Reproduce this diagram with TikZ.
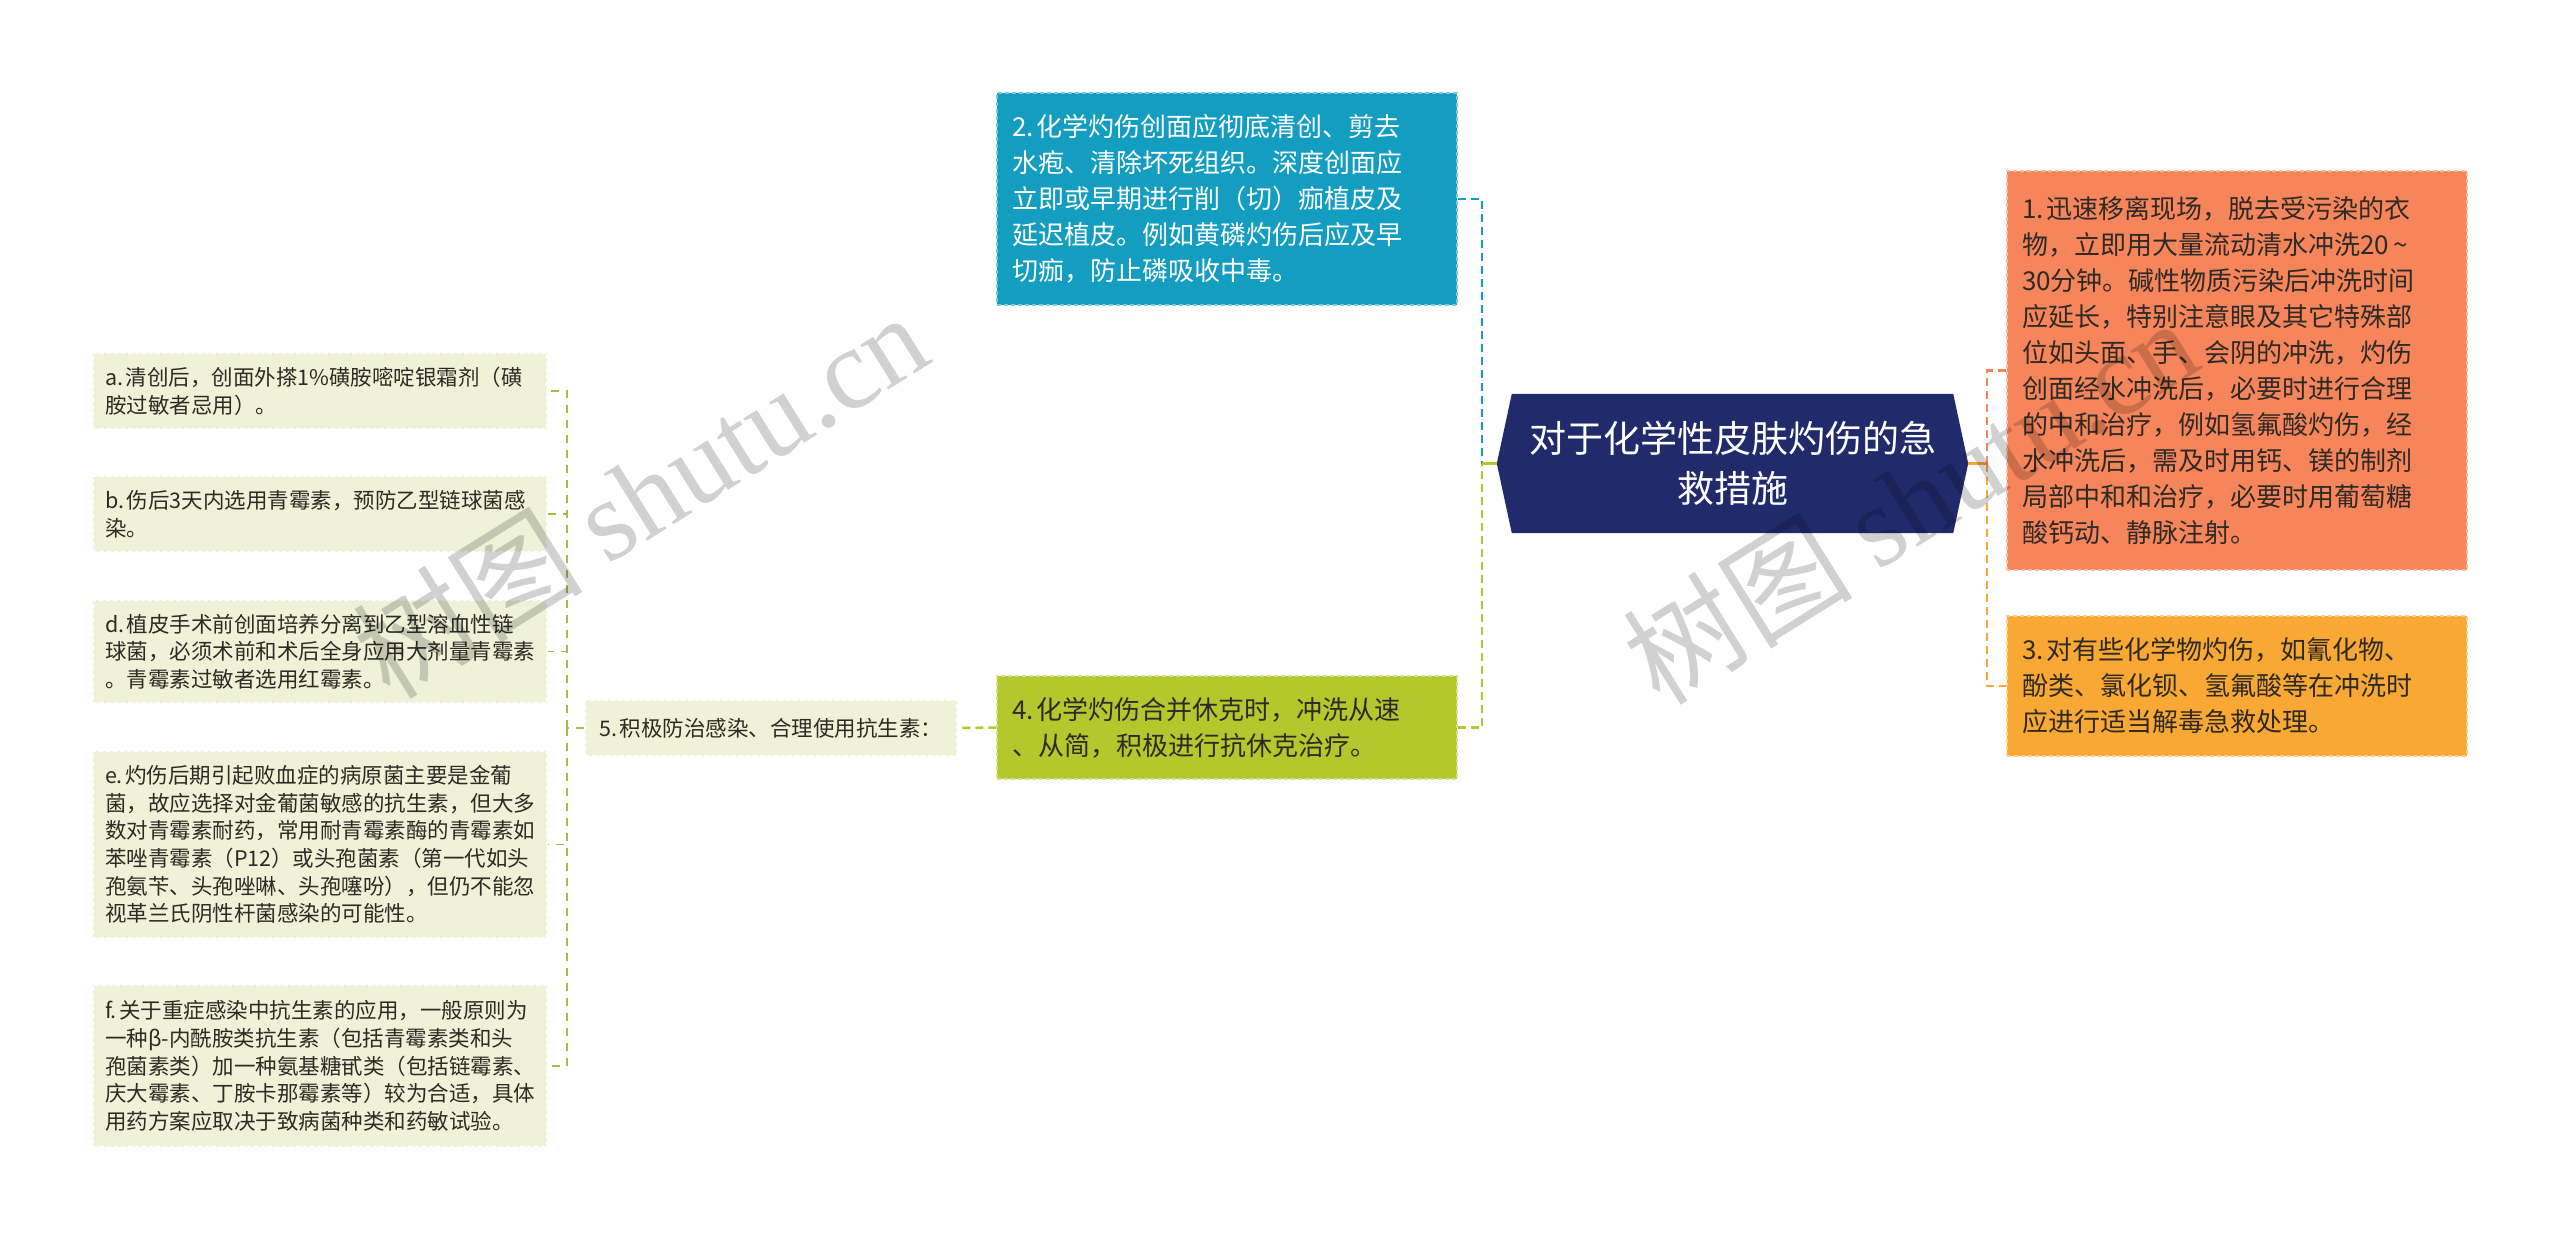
\documentclass[tikz,border=0pt]{standalone}
\usepackage{fontspec}
\setmainfont{Noto Sans CJK SC}
\newfontfamily\wmlatin{Liberation Serif}
\usetikzlibrary{backgrounds}
\definecolor{rootc}{HTML}{212A6B}
\definecolor{tealc}{HTML}{139DC0}
\definecolor{greenc}{HTML}{B4C72C}
\definecolor{coralc}{HTML}{F7855B}
\definecolor{amberc}{HTML}{F9A833}
\definecolor{palec}{HTML}{EFF2D7}
\definecolor{olivec}{HTML}{A9BA4A}
\definecolor{txtc}{HTML}{2E2A25}
\newcommand{\nsp}{\hspace{0.12em}}
\tikzset{
  mbox/.style={rectangle, inner xsep=15pt, inner ysep=0pt, align=left,
    line width=1.5pt, dash pattern=on 4pt off 3pt,
    font=\fontsize{26}{36}\selectfont, text width=430pt, minimum width=460pt},
  lbox/.style={rectangle, inner xsep=12pt, inner ysep=0pt, align=left,
    fill=palec, draw=white, line width=1.5pt, dash pattern=on 4pt off 3pt,
    font=\fontsize{21.5}{27.7}\selectfont, text width=430pt, minimum width=454pt, text=txtc},
  conn/.style={line width=2.5pt, dash pattern=on 8pt off 5pt},
  lconn/.style={line width=1.8pt, dash pattern=on 8pt off 7pt, draw=olivec},
  wm/.style={rotate=32, opacity=0.18, text=black, inner sep=0pt}
}
\begin{document}
\begin{tikzpicture}[x=1pt,y=-1pt]
\useasboundingbox (0,0) rectangle (2560,1239);

% root
\node[rectangle, inner sep=0pt, minimum width=471pt, minimum height=139pt,
  align=center, text=white, font=\fontsize{37}{50}\selectfont]
  (root) at (1732.5,463.5) {\raisebox{-6pt}{\parbox{420pt}{\centering 对于化学性皮肤灼伤的急\\救措施}}};
\begin{pgfonlayer}{background}
  \fill[white] (0,0) rectangle (2560,1239);
  \fill[rootc] (root.west) -- ([xshift=15pt]root.north west) -- ([xshift=-15pt]root.north east)
    -- (root.east) -- ([xshift=-15pt]root.south east) -- ([xshift=15pt]root.south west) -- cycle;
\end{pgfonlayer}

% main branches
\node[mbox, fill=tealc, draw=tealc!55!white, text=white, minimum height=212pt]
  (n2) at (1227,199) {2.\nsp 化学灼伤创面应彻底清创、剪去\\水疱、清除坏死组织。深度创面应\\立即或早期进行削（切）痂植皮及\\延迟植皮。例如黄磷灼伤后应及早\\切痂，防止磷吸收中毒。};
\node[mbox, fill=greenc, draw=greenc!55!white, text=txtc, minimum height=103pt]
  (n4) at (1227,727.5) {4.\nsp 化学灼伤合并休克时，冲洗从速\\、从简，积极进行抗休克治疗。};
\node[mbox, fill=coralc, draw=coralc!55!white, text=txtc, minimum height=399pt]
  (n1) at (2237,370.5) {1.\nsp 迅速移离现场，脱去受污染的衣\\物，立即用大量流动清水冲洗20\,\char"007E\\30分钟。碱性物质污染后冲洗时间\\应延长，特别注意眼及其它特殊部\\位如头面、手、会阴的冲洗，灼伤\\创面经水冲洗后，必要时进行合理\\的中和治疗，例如氢氟酸灼伤，经\\水冲洗后，需及时用钙、镁的制剂\\局部中和和治疗，必要时用葡萄糖\\酸钙动、静脉注射。};
\node[mbox, fill=amberc, draw=amberc!55!white, text=txtc, minimum height=140pt]
  (n3) at (2237,686) {3.\nsp 对有些化学物灼伤，如氰化物、\\酚类、氯化钡、氢氟酸等在冲洗时\\应进行适当解毒急救处理。};

% sub topic
\node[rectangle, fill=palec, draw=white, line width=1.5pt, dash pattern=on 4pt off 3pt,
  minimum width=372pt, minimum height=56pt, inner sep=0pt, text=txtc,
  font=\fontsize{21.5}{27}\selectfont] (n5) at (771,728) {5.\nsp 积极防治感染、合理使用抗生素：};

% leaves
\node[lbox, minimum height=76pt] (la) at (320,391) {a.\nsp 清创后，创面外搽1\%磺胺嘧啶银霜剂（磺\\胺过敏者忌用）。};
\node[lbox, minimum height=76pt] (lb) at (320,514) {b.\nsp 伤后3天内选用青霉素，预防乙型链球菌感\\染。};
\node[lbox, minimum height=103pt] (ld) at (320,651.5) {d.\nsp 植皮手术前创面培养分离到乙型溶血性链\\球菌，必须术前和术后全身应用大剂量青霉素\\。青霉素过敏者选用红霉素。};
\node[lbox, minimum height=187pt] (le) at (320,844.5) {e.\nsp 灼伤后期引起败血症的病原菌主要是金葡\\菌，故应选择对金葡菌敏感的抗生素，但大多\\数对青霉素耐药，常用耐青霉素酶的青霉素如\\苯唑青霉素（P12）或头孢菌素（第一代如头\\孢氨苄、头孢唑啉、头孢噻吩），但仍不能忽\\视革兰氏阴性杆菌感染的可能性。};
\node[lbox, minimum height=162pt] (lf) at (320,1066) {f.\nsp 关于重症感染中抗生素的应用，一般原则为\\一种β-内酰胺类抗生素（包括青霉素类和头\\孢菌素类）加一种氨基糖甙类（包括链霉素、\\庆大霉素、丁胺卡那霉素等）较为合适，具体\\用药方案应取决于致病菌种类和药敏试验。};

% junctions
\coordinate (jl) at (1482,463.5);
\coordinate (jr) at (1987,463.5);
\coordinate (jf) at (567,728);

% connectors
\draw[conn, draw=tealc] (n2.east) -| (jl);
\draw[conn, draw=greenc] (n4.east) -| (jl);
\draw[line width=2.5pt, draw=greenc] (jl) -- (root.west);
\draw[line width=2.5pt, draw=amberc] (root.east) -- (jr);
\draw[conn, draw=coralc] (jr) |- (n1.west);
\draw[conn, draw=amberc] (jr) |- (n3.west);
\draw[conn, draw=greenc] (n4.west) -- (n5.east);
\draw[lconn] (n5.west) -- (jf);
\draw[lconn] (jf) |- (la.east);
\draw[lconn] (jf) |- (lb.east);
\draw[lconn] (jf) |- (ld.east);
\draw[lconn] (jf) |- (le.east);
\draw[lconn] (jf) |- (lf.east);

% watermarks
\node[wm, font=\fontsize{115}{120}\selectfont] (wm1) at (640,494) {树图 {\wmlatin shutu.cn}};
\node[wm, font=\fontsize{115}{120}\selectfont] (wm2) at (1910,500) {树图 {\wmlatin shutu.cn}};
\end{tikzpicture}
\end{document}
